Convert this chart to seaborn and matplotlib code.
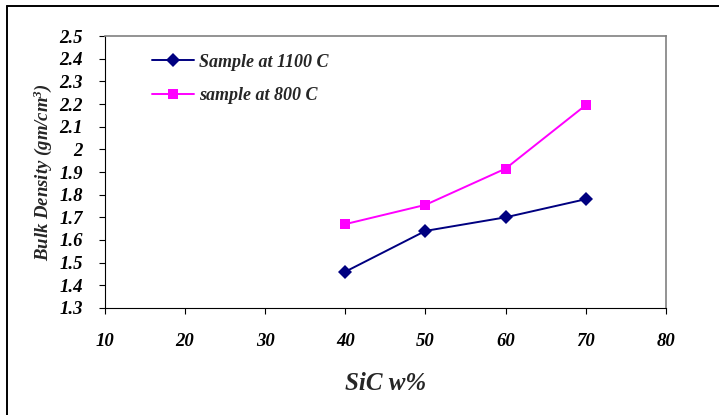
import numpy as np
import pandas as pd
import seaborn as sns
from matplotlib import pyplot as plt
from matplotlib.lines import Line2D

sns.set_style("white")
plt.rcParams.update({
    "font.family": ["Liberation Serif", "DejaVu Serif"],
    "font.weight": "bold",
    "font.style": "italic",
    "mathtext.fontset": "custom",
    "mathtext.it": "Liberation Serif:bold:italic",
    "mathtext.rm": "Liberation Serif:bold:italic",
})

sic = [40, 50, 60, 70]
density_1100 = [1.46, 1.64, 1.70, 1.78]
density_800 = [1.67, 1.755, 1.915, 2.195]
series_names = ["Sample at 1100 C", "sample at 800 C"]
y_ticks = [1.3, 1.4, 1.5, 1.6, 1.7, 1.8, 1.9, 2.0, 2.1, 2.2, 2.3, 2.4, 2.5]
y_tick_labels = ["1.3", "1.4", "1.5", "1.6", "1.7", "1.8", "1.9", "2", "2.1", "2.2", "2.3", "2.4", "2.5"]
x_ticks = [10, 20, 30, 40, 50, 60, 70, 80]

df = pd.DataFrame({
    "SiC": sic * 2,
    "density": density_1100 + density_800,
    "series": [series_names[0]] * 4 + [series_names[1]] * 4,
})

colors = {series_names[0]: "#000080", series_names[1]: "#FF00FF"}
markers = {series_names[0]: "D", series_names[1]: "s"}

fig = plt.figure(figsize=(7.19, 4.15), dpi=100)
ax = fig.add_axes([0.146, 0.258, 0.780, 0.655])

sns.lineplot(data=df, x="SiC", y="density", hue="series", style="series",
             palette=colors, markers=markers, dashes=False, markersize=7,
             markeredgewidth=0, linewidth=1.4, ax=ax, legend=False)

ax.set_xlim(10, 80)
ax.set_ylim(1.3, 2.5)
ax.set_xticks(x_ticks)
ax.set_xticklabels([str(t) for t in x_ticks])
ax.set_yticks(y_ticks)
ax.set_yticklabels(y_tick_labels)
ax.tick_params(axis="both", labelsize=13.5, length=4, width=0.8, direction="out",
               left=True, bottom=True, colors="black")
ax.tick_params(axis="x", pad=14)
ax.tick_params(axis="y", pad=12)
for lab in ax.get_xticklabels() + ax.get_yticklabels():
    lab.set_fontweight("bold")
    lab.set_fontstyle("italic")

for side in ["top", "right"]:
    ax.spines[side].set_color("#808080")
    ax.spines[side].set_linewidth(1.2)
for side in ["left", "bottom"]:
    ax.spines[side].set_color("black")
    ax.spines[side].set_linewidth(0.8)

ax.set_xlabel("SiC w%", fontsize=18, fontweight="bold", fontstyle="italic", labelpad=16)
ax.set_ylabel("Bulk Density (gm/cm$^3$)", fontsize=13.5, fontweight="bold",
              fontstyle="italic", labelpad=4)

handles = [Line2D([0], [0], color=colors[n], marker=markers[n], markersize=7,
                  markeredgewidth=0, linewidth=1.4) for n in series_names]
ax.legend(handles, series_names, loc="upper left", bbox_to_anchor=(0.055, 0.995),
          frameon=False, prop={"family": "Liberation Serif", "weight": "bold",
                               "style": "italic", "size": 13},
          handlelength=2.3, labelspacing=0.9, handletextpad=0.3)

# outer frame of the chart area
fig.add_artist(Line2D([0.0097, 1.0], [0.985, 0.985], color="black", linewidth=1.4,
                      transform=fig.transFigure))
fig.add_artist(Line2D([0.0097, 0.0097], [0.0, 0.985], color="black", linewidth=1.4,
                      transform=fig.transFigure))

fig.savefig("out.png", dpi=100)
plt.close(fig)
